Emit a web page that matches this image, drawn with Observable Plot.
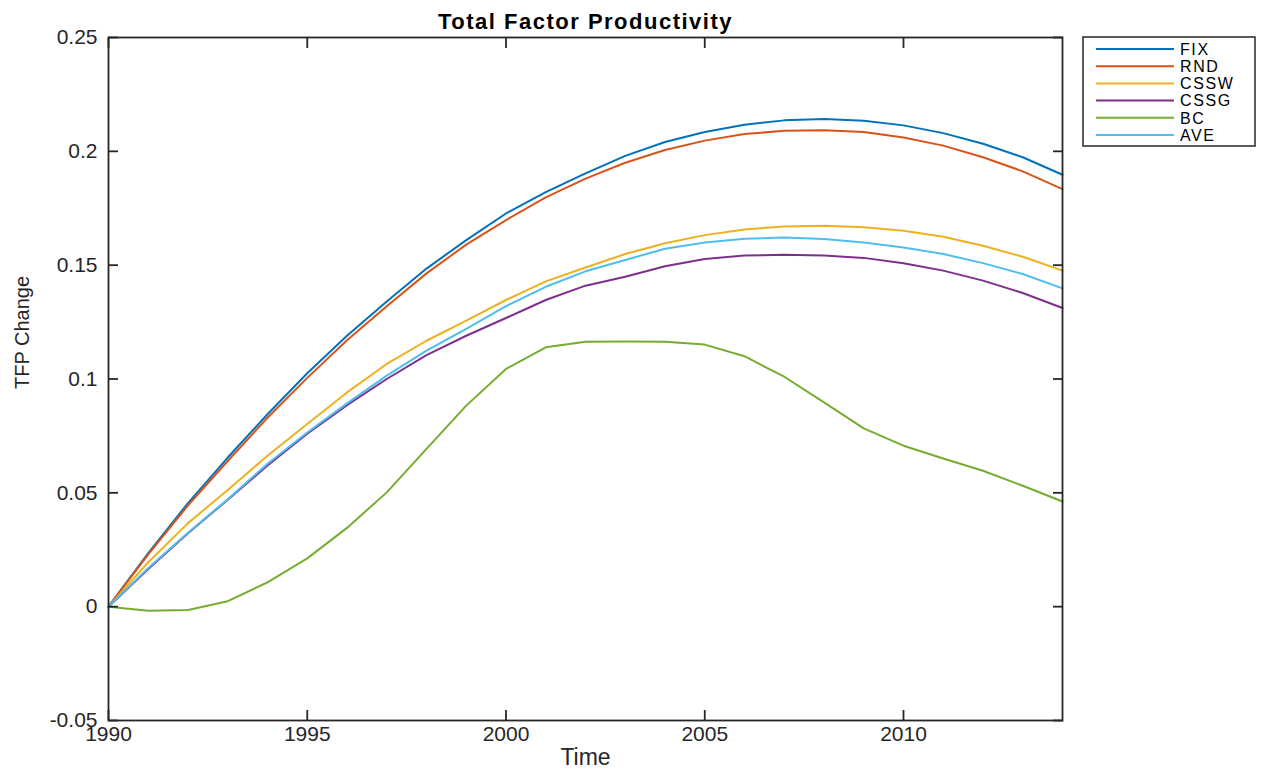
<!DOCTYPE html>
<html>
<head>
<meta charset="utf-8">
<script src="https://cdn.jsdelivr.net/npm/d3@7"></script>
<script src="https://cdn.jsdelivr.net/npm/@observablehq/plot@0.6"></script>
<style>
  body { margin: 0; background: #fff; font-family: "Liberation Sans", Arial, sans-serif; }
  #wrap { width: 1266px; height: 776px; }
</style>
</head>
<body>
<div id="wrap"></div>
<script>
const years = [1990, 1991, 1992, 1993, 1994, 1995, 1996, 1997, 1998, 1999, 2000, 2001, 2002,
               2003, 2004, 2005, 2006, 2007, 2008, 2009, 2010, 2011, 2012, 2013, 2014];

const FIX  = [0, 0.0235, 0.0455, 0.0655, 0.0845, 0.1025, 0.1190, 0.1340, 0.1485, 0.1610, 0.1727, 0.1821, 0.1903,
              0.1980, 0.2041, 0.2085, 0.2117, 0.2136, 0.2142, 0.2134, 0.2114, 0.2080, 0.2033, 0.1974, 0.1897];
const RND  = [0, 0.0230, 0.0445, 0.0640, 0.0830, 0.1005, 0.1170, 0.1320, 0.1464, 0.1590, 0.1698, 0.1798, 0.1880,
              0.1950, 0.2006, 0.2047, 0.2076, 0.2090, 0.2093, 0.2085, 0.2061, 0.2025, 0.1974, 0.1912, 0.1834];
const CSSW = [0, 0.0195, 0.0367, 0.0512, 0.0663, 0.0802, 0.0941, 0.1066, 0.1168, 0.1256, 0.1347, 0.1429, 0.1490,
              0.1549, 0.1596, 0.1632, 0.1657, 0.1670, 0.1673, 0.1667, 0.1651, 0.1625, 0.1585, 0.1537, 0.1476];
const CSSG = [0, 0.0165, 0.0322, 0.0470, 0.0620, 0.0760, 0.0885, 0.1000, 0.1105, 0.1190, 0.1268, 0.1347, 0.1410,
              0.1449, 0.1495, 0.1527, 0.1542, 0.1546, 0.1543, 0.1532, 0.1508, 0.1476, 0.1432, 0.1378, 0.1312];
const BC   = [0, -0.0018, -0.0015, 0.0024, 0.0107, 0.0212, 0.0346, 0.0502, 0.0693, 0.0883, 0.1044, 0.1139, 0.1164,
              0.1165, 0.1164, 0.1151, 0.1100, 0.1010, 0.0897, 0.0783, 0.0707, 0.0651, 0.0597, 0.0531, 0.0462];
const AVE  = [0, 0.0170, 0.0325, 0.0472, 0.0628, 0.0765, 0.0893, 0.1015, 0.1125, 0.1220, 0.1320, 0.1405, 0.1473,
              0.1523, 0.1572, 0.1600, 0.1616, 0.1621, 0.1615, 0.1600, 0.1578, 0.1549, 0.1509, 0.1461, 0.1398];

const seriesNames = ["FIX", "RND", "CSSW", "CSSG", "BC", "AVE"];
const seriesValues = [FIX, RND, CSSW, CSSG, BC, AVE];
const seriesColors = ["#0072BD", "#D95319", "#EDB120", "#7E2F8E", "#77AC30", "#4DBEEE"];

const xTicks = [1990, 1995, 2000, 2005, 2010];
const yTicks = [-0.05, 0, 0.05, 0.1, 0.15, 0.2, 0.25];

const titleText = "Total Factor Productivity";
const xLabel = "Time";
const yLabel = "TFP Change";

const rows = seriesNames.flatMap((name, s) =>
  years.map((year, i) => ({ name, year, value: seriesValues[s][i] }))
);

const ink = "#262626";
const font = "'Liberation Sans', Arial, sans-serif";

const chart = Plot.plot({
  width: 1266,
  height: 776,
  marginLeft: 108,
  marginRight: 204,
  marginTop: 37,
  marginBottom: 56,
  style: { fontFamily: font, fontSize: "20px", color: ink, background: "#fff", overflow: "visible" },
  x: { domain: [1990, 2014], label: null },
  y: { domain: [-0.05, 0.25], label: null },
  color: { domain: seriesNames, range: seriesColors },
  marks: [
    Plot.line(rows, { x: "year", y: "value", z: "name", stroke: "name", strokeWidth: 2 }),
    Plot.frame({ stroke: ink, strokeWidth: 1.8 }),
    Plot.axisX(xTicks, { anchor: "bottom", tickSize: 0, tickPadding: 6, tickFormat: d => String(d), fontSize: 21, fill: ink, style: "letter-spacing:0.8px" }),
    Plot.axisX(xTicks, { anchor: "bottom", tickSize: -10, text: null, stroke: ink, strokeWidth: 1.8 }),
    Plot.axisX(xTicks, { anchor: "top", tickSize: -10, text: null, stroke: ink, strokeWidth: 1.8 }),
    Plot.axisY(yTicks, { anchor: "left", tickSize: 0, tickPadding: 11, tickFormat: d => String(d), fontSize: 21, fill: ink }),
    Plot.axisY(yTicks, { anchor: "left", tickSize: -10, text: null, stroke: ink, strokeWidth: 1.8 }),
    Plot.axisY(yTicks, { anchor: "right", tickSize: -10, text: null, stroke: ink, strokeWidth: 1.8 }),
    Plot.text([titleText], { text: d => d, frameAnchor: "top", dy: -16, fontSize: 22, fontWeight: "bold", fill: "#000", lineAnchor: "middle" }),
    Plot.text([xLabel], { text: d => d, frameAnchor: "bottom", dy: 37, fontSize: 23, fill: ink, lineAnchor: "middle" }),
    Plot.text([yLabel], { text: d => d, frameAnchor: "left", dx: -86, dy: 10, rotate: -90, fontSize: 20, fill: ink, lineAnchor: "middle" })
  ]
});

document.getElementById("wrap").appendChild(chart);

// Title letter spacing (MATLAB renders it wider)
d3.select(chart).selectAll("text").filter(function() { return this.textContent === titleText; })
  .style("letter-spacing", "1.5px");

// Legend (MATLAB style, boxed, top right outside the axes)
const svg = d3.select(chart);
const lg = svg.append("g").attr("transform", "translate(1083,37)").attr("text-anchor", "start");
lg.append("rect")
  .attr("x", 0).attr("y", 0).attr("width", 172).attr("height", 109)
  .attr("fill", "#fff").attr("stroke", ink).attr("stroke-width", 1.5);
seriesNames.forEach((name, i) => {
  const cy = 12 + i * 17.2;
  lg.append("line")
    .attr("x1", 13).attr("x2", 91).attr("y1", cy).attr("y2", cy)
    .attr("stroke", seriesColors[i]).attr("stroke-width", 2);
  lg.append("text")
    .attr("x", 97).attr("y", cy).attr("dy", "0.36em")
    .attr("text-anchor", "start")
    .attr("font-family", font)
    .attr("font-size", 16).attr("fill", "#000")
    .style("letter-spacing", "1.6px")
    .text(name);
});
</script>
</body>
</html>
